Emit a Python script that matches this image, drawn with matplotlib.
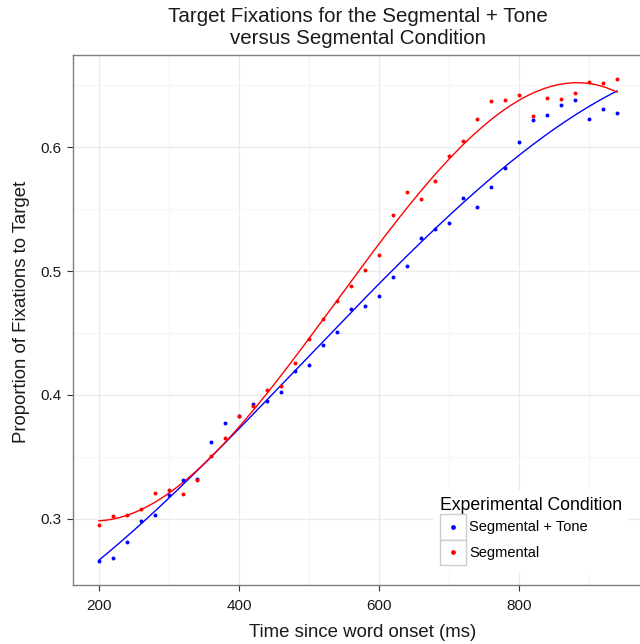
import numpy as np
import matplotlib
matplotlib.use("Agg")
import matplotlib.pyplot as plt
from matplotlib.patches import Rectangle
from matplotlib.lines import Line2D
from matplotlib.legend_handler import HandlerBase

plt.rcParams['font.family'] = ['Liberation Sans', 'DejaVu Sans']

# time since word onset (ms)
time_ms = list(range(200, 941, 20))

# proportion of fixations to target
seg_tone = [0.266, 0.268, 0.281, 0.298, 0.303, 0.319, 0.331, 0.332, 0.362, 0.377,
            0.383, 0.393, 0.395, 0.402, 0.419, 0.424, 0.440, 0.451, 0.469, 0.472,
            0.480, 0.495, 0.504, 0.527, 0.534, 0.539, 0.559, 0.552, 0.568, 0.583,
            0.604, 0.622, 0.626, 0.634, 0.638, 0.623, 0.631, 0.628]
segmental = [0.295, 0.302, 0.303, 0.308, 0.321, 0.323, 0.320, 0.331, 0.351, 0.365,
             0.383, 0.391, 0.404, 0.407, 0.426, 0.445, 0.461, 0.476, 0.488, 0.501,
             0.513, 0.545, 0.564, 0.558, 0.573, 0.593, 0.605, 0.623, 0.637, 0.638,
             0.642, 0.625, 0.640, 0.639, 0.644, 0.653, 0.652, 0.655]

conditions = ["Segmental + Tone", "Segmental"]
colors = ["#0000ff", "#ff0000"]


class KeyHandler(HandlerBase):
    def create_artists(self, legend, orig_handle, xdescent, ydescent,
                       width, height, fontsize, trans):
        box = Rectangle((-xdescent, -ydescent), width, height, facecolor="white",
                        edgecolor="#cccccc", lw=1.0, transform=trans)
        dot = Line2D([width / 2 - xdescent], [height / 2 - ydescent], marker="o",
                     ms=2.4, ls="", color=orig_handle.get_color(), transform=trans)
        return [box, dot]


fig = plt.figure(figsize=(6.4, 6.44), dpi=100)
ax = fig.add_axes([73 / 640, 59 / 644, 570 / 640, 530 / 644])

t = np.array(time_ms, dtype=float)
tt = np.linspace(t.min(), t.max(), 200)
handles = []
for vals, lab, col in zip([seg_tone, segmental], conditions, colors):
    y = np.array(vals)
    ax.scatter(t, y, s=8, color=col, linewidths=0, zorder=3)
    coef = np.polyfit(t, y, 3)
    ax.plot(tt, np.polyval(coef, tt), color=col, lw=1.0, zorder=2)
    handles.append(Line2D([], [], color=col, label=lab))

xr = t.max() - t.min()
ax.set_xlim(t.min() - 0.05 * xr, t.max() + 0.05 * xr)
allv = np.array(seg_tone + segmental)
yr = allv.max() - allv.min()
ax.set_ylim(allv.min() - 0.05 * yr, allv.max() + 0.05 * yr)

ax.set_xticks([200, 400, 600, 800])
ax.set_xticks([300, 500, 700, 900], minor=True)
ax.set_yticks([0.3, 0.4, 0.5, 0.6])
ax.set_yticks([0.35, 0.45, 0.55, 0.65], minor=True)
ax.set_yticklabels(["0.3", "0.4", "0.5", "0.6"])
ax.grid(True, which="major", color="#ebebeb", lw=1.0, zorder=0)
ax.grid(True, which="minor", color="#f5f5f5", lw=0.8, zorder=0)
ax.set_axisbelow(True)
ax.tick_params(which="major", direction="out", length=4, width=0.8, color="#333333",
               labelsize=11, labelcolor="#1a1a1a", pad=4)
ax.tick_params(axis="x", which="major", pad=6)
ax.tick_params(which="minor", length=0)
for sp in ax.spines.values():
    sp.set_color("#7f7f7f")
    sp.set_linewidth(1.0)

fig.text(358 / 640, 1 - 7 / 644, "Target Fixations for the Segmental + Tone\nversus Segmental Condition",
         ha="center", va="top", fontsize=14.8, linespacing=1.18, color="#1a1a1a")
fig.text(363 / 640, 1 - 637 / 644, "Time since word onset (ms)", ha="center",
         va="baseline", fontsize=13.4, color="#1a1a1a")
fig.text(22 / 640, 1 - 312 / 644, "Proportion of Fixations to Target", ha="center",
         va="center", rotation=90, fontsize=13.4, color="#1a1a1a")

leg = ax.legend(handles=handles, title="Experimental Condition",
                handler_map={Line2D: KeyHandler()},
                loc="upper left", bbox_to_anchor=(433 / 640, 1 - 490 / 644),
                bbox_transform=fig.transFigure, fontsize=10.5, title_fontsize=12.7,
                handlelength=1.78, handleheight=2.36, labelspacing=0,
                handletextpad=0.25, borderpad=0.45, borderaxespad=0,
                frameon=True, fancybox=False, alignment="left")
leg.get_frame().set_facecolor("white")
leg.get_frame().set_edgecolor("none")
leg.get_frame().set_alpha(1)

fig.savefig("out.png", dpi=100)
